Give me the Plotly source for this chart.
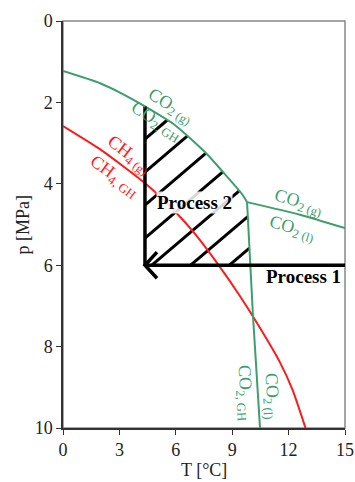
import numpy as np
import plotly.graph_objects as go

# ---------------- data ----------------
# CO2 hydrate / CO2 gas equilibrium
co2_gh_T = [0.0, 1.97, 3.03, 4.36, 5.96, 7.55, 8.51, 9.52, 9.79]
co2_gh_p = [1.23, 1.53, 1.76, 2.10, 2.56, 3.22, 3.71, 4.25, 4.45]
# CO2 hydrate / CO2 liquid equilibrium
co2_hl_T = [9.79, 10.10, 10.48]
co2_hl_p = [4.45, 7.20, 10.0]
# CO2 gas / CO2 liquid
co2_gl_T = [9.79, 12.6, 15.0]
co2_gl_p = [4.45, 4.76, 5.09]
# CH4 hydrate / CH4 gas equilibrium
ch4_T = [0.0, 2.0, 4.4, 6.0, 7.0, 8.2, 9.4, 10.4, 11.5, 12.2, 12.9]
ch4_p = [2.58, 3.16, 4.0, 4.70, 5.22, 5.95, 6.75, 7.48, 8.35, 9.05, 10.0]

# processes
proc_T_start = 4.36      # temperature of the isothermal process 2
proc_p = 6.0             # pressure of the isobaric process 1
proc1_T = [15.0, proc_T_start]
proc1_p = [proc_p, proc_p]

x_ticks = [0, 3, 6, 9, 12, 15]
y_ticks = [0, 2, 4, 6, 8, 10]

GREEN = "#3c9f6c"
RED = "#ff1a1a"
SERIF = "Liberation Serif, Times New Roman, serif"

fig = go.Figure()

def line(x, y, color, width, shape="linear"):
    fig.add_trace(go.Scatter(x=x, y=y, mode="lines", hoverinfo="skip",
                             line=dict(color=color, width=width, shape=shape,
                                       smoothing=0.6 if shape == "spline" else None),
                             showlegend=False))

# ---------------- hatch of process 2 region ----------------
def p_green(T):
    return np.interp(T, co2_gh_T, co2_gh_p)

def T_liq(p):
    return np.interp(p, co2_hl_p, co2_hl_T)

hatch_slope = 0.393     # MPa per degC (lines rise to the right)
hatch_first = 2.90      # p at T = proc_T_start of the first hatch line
hatch_step = 0.811
Tg = np.linspace(proc_T_start, 10.6, 4000)
for k in range(7):
    c = hatch_first + k * hatch_step
    pl = c - hatch_slope * (Tg - proc_T_start)
    inside = (pl <= proc_p) & (pl >= p_green(Tg)) & (Tg <= T_liq(np.maximum(pl, 4.45)))
    idx = np.where(inside)[0]
    if len(idx) < 2:
        continue
    a, b = idx[0], idx[-1]
    line([Tg[a], Tg[b]], [pl[a], pl[b]], "black", 3)

# ---------------- equilibrium curves ----------------
line(ch4_T, ch4_p, RED, 2, "spline")
line(co2_gh_T, co2_gh_p, GREEN, 2, "spline")
line(co2_hl_T, co2_hl_p, GREEN, 2, "spline")
line(co2_gl_T, co2_gl_p, GREEN, 2, "spline")

# ---------------- processes ----------------
top_p = float(p_green(proc_T_start))
line([proc_T_start, proc_T_start], [proc_p, top_p], "black", 3.5)
line(proc1_T, proc1_p, "black", 3.5)
# open arrow head at the end of process 1
ah_dT, ah_dp = 0.64, 0.32
line([proc_T_start + ah_dT, proc_T_start, proc_T_start + ah_dT],
     [proc_p - ah_dp, proc_p, proc_p + ah_dp], "black", 3.5)

# ---------------- labels ----------------
def lab(text, x, y, angle, color, size=18, **kw):
    fig.add_annotation(x=x, y=y, text=text, textangle=angle, showarrow=False,
                       font=dict(family=SERIF, size=size, color=color), **kw)

lab("CO<sub>2 (g)</sub>", 5.74, 2.09, 31, GREEN)
lab("CO<sub>2, GH</sub>", 4.95, 2.48, 32, GREEN)
lab("CH<sub>4 (g)</sub>", 3.46, 3.29, 37, RED)
lab("CH<sub>4, GH</sub>", 2.71, 3.83, 36, RED)
lab("CO<sub>2 (g)</sub>", 12.55, 4.45, 16, GREEN)
lab("CO<sub>2 (l)</sub>", 12.18, 5.09, 16, GREEN)
lab("CO<sub>2 (l)</sub>", 11.06, 9.21, 87, GREEN)
lab("CO<sub>2, GH</sub>", 9.68, 9.14, 87, GREEN)

lab("<b>Process 2</b>", 6.99, 4.47, 0, "black", 19,
    bgcolor="rgba(255,255,255,0.85)", borderpad=0)
lab("<b>Process 1</b>", 14.9, 6.27, 0, "black", 19, xanchor="right")

# axis titles
fig.add_annotation(text="p [MPa]", xref="paper", yref="paper", x=0, y=0.5,
                   xanchor="center", yanchor="middle",
                   xshift=-41, textangle=-90, showarrow=False,
                   font=dict(family=SERIF, size=18, color="#222"))
fig.add_annotation(text="T [°C]", xref="paper", yref="paper", x=0.5, y=0,
                   xanchor="center", yanchor="middle",
                   yshift=-42, showarrow=False,
                   font=dict(family=SERIF, size=18, color="#222"))

# frame (top/right grey)
fig.add_shape(type="rect", xref="paper", yref="paper", x0=0, y0=0, x1=1, y1=1,
              line=dict(color="#888", width=1.5), layer="below")

fig.update_xaxes(range=[0, 15], tickvals=x_ticks, ticks="outside", ticklen=5,
                 tickcolor="#333", showgrid=False, zeroline=False, automargin=False,
                 showline=True, linecolor="#333", linewidth=1.5,
                 tickfont=dict(family=SERIF, size=18, color="#222"))
fig.update_yaxes(range=[10, 0], tickvals=y_ticks, ticks="outside", ticklen=5,
                 tickcolor="#333", showgrid=False, zeroline=False, automargin=False,
                 showline=True, linecolor="#333", linewidth=1.5,
                 tickfont=dict(family=SERIF, size=18, color="#222"))

fig.update_layout(width=355, height=482, margin=dict(l=63, r=10, t=21, b=54, autoexpand=False),
                  plot_bgcolor="white", paper_bgcolor="white", showlegend=False)

fig.write_html("out.html")
